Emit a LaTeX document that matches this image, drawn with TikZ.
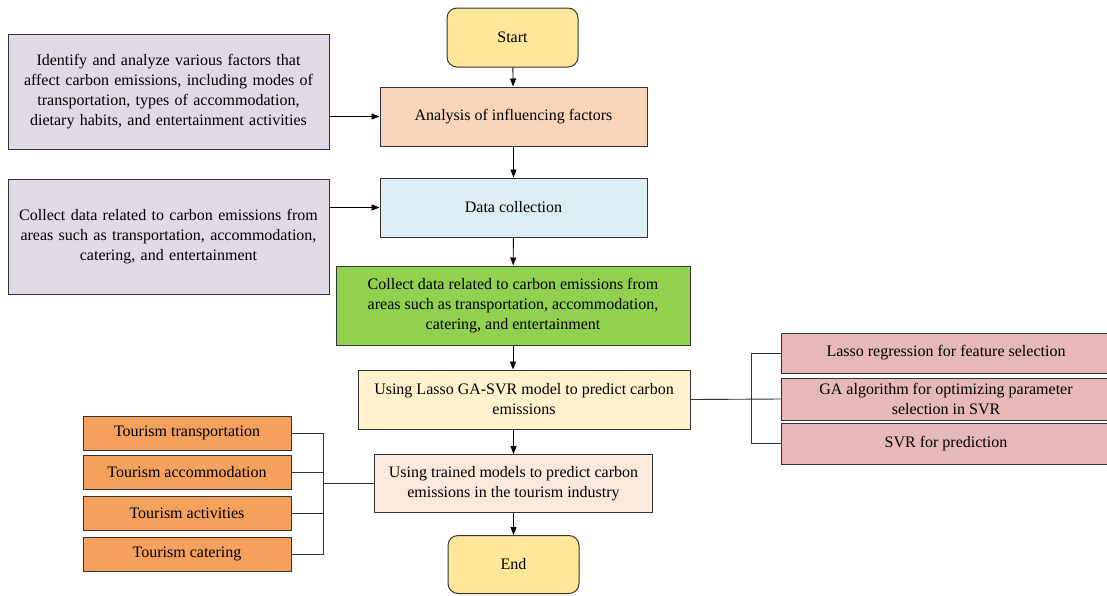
\documentclass[tikz,border=0pt]{standalone}
\usepackage{fontspec}
\setmainfont{Liberation Serif}
\usetikzlibrary{arrows.meta}
\definecolor{startc}{HTML}{FFE699}
\definecolor{anac}{HTML}{F8D5B8}
\definecolor{colc}{HTML}{DCEDF3}
\definecolor{facc}{HTML}{E0DAE7}
\definecolor{datc}{HTML}{92D050}
\definecolor{modc}{HTML}{FFF2CC}
\definecolor{predc}{HTML}{FBE9DC}
\definecolor{partc}{HTML}{E6B8B7}
\definecolor{tourc}{HTML}{F4A15D}
\begin{document}
\begin{tikzpicture}[
    x=1pt, y=-1pt,
    box/.style={rectangle, draw=black!80, line width=1pt, align=center, inner sep=2pt, font=\fontsize{16}{20}\selectfont},
    term/.style={box, rounded corners=10pt, fill=startc, minimum width=131pt, minimum height=59pt},
    process/.style={box, minimum width=267pt, minimum height=59pt},
    note/.style={box, fill=facc, minimum width=321pt, minimum height=115pt, text width=316pt},
    part/.style={box, fill=partc, minimum width=330pt},
    tour/.style={box, fill=tourc, minimum width=208pt, minimum height=34pt},
    arrow/.style={-{Triangle[length=8pt,width=6pt]}, line width=0.9pt},
    link/.style={line width=0.9pt, draw=black!80},
]
\useasboundingbox (0,0) rectangle (1107,595);

% Process Flow
\node[term] (start) at (512.5,37.5) {Start};
\node[process, fill=anac] (ana) at (513.5,116.5) {Analysis of influencing factors};
\node[note] (fac) at (168.5,91.5) {Identify and analyze various factors that\\affect carbon emissions, including modes of\\transportation, types of accommodation,\\dietary habits, and entertainment activities};
\node[process, fill=colc] (col) at (513.5,207.5) {Data collection};
\node[note] (src) at (168.5,236.5) {Collect data related to carbon emissions from\\areas such as transportation, accommodation,\\catering, and entertainment};
\node[box, fill=datc, minimum width=354pt, minimum height=79pt] (dat) at (513,305.5) {Collect data related to carbon emissions from\\areas such as transportation, accommodation,\\catering, and entertainment};
\node[box, fill=modc, minimum width=332pt, minimum height=59pt] (mod) at (524,399.5) {Using Lasso GA-SVR model to predict carbon\\emissions};
\node[box, fill=predc, minimum width=278pt, minimum height=58pt] (pred) at (513.5,483.5) {Using trained models to predict carbon\\emissions in the tourism industry};
\node[term, minimum height=58pt] (end) at (513.5,564.5) {End};

% Model parts
\node[part, minimum height=40pt] (lasso) at (946,353) {Lasso regression for feature selection};
\node[part, minimum height=42pt] (ga) at (946,399) {GA algorithm for optimizing parameter\\selection in SVR};
\node[part, minimum height=41pt] (svr) at (946,443.5) {SVR for prediction};

% Tourism sectors
\node[tour] (tra) at (187,433) {Tourism transportation};
\node[tour] (acc) at (187,472) {Tourism accommodation};
\node[tour] (act) at (187,513.5) {Tourism activities};
\node[tour] (cat) at (187,554) {Tourism catering};

\coordinate (rb) at (751,0);
\coordinate (lb) at (323,0);

\draw[arrow] (start) -- (ana);
\draw[arrow] (ana) -- (col);
\draw[arrow] (col) -- (dat);
\draw[arrow] (dat.south) -- (dat.south |- mod.north);
\draw[arrow] (mod.south -| pred) -- (pred);
\draw[arrow] (pred) -- (end);
\draw[arrow] (fac.east |- ana) -- (ana);
\draw[arrow] (src.east |- col) -- (col);

\draw[link] (mod.east) -- (ga.west);
\draw[link] (lasso.west) -- (lasso.west -| rb) -- (svr.west -| rb) -- (svr.west);
\draw[link] (tra.east) -- (tra.east -| lb) -- (cat.east -| lb) -- (cat.east);
\draw[link] (acc.east) -- (acc.east -| lb);
\draw[link] (act.east) -- (act.east -| lb);
\draw[link] (pred.west) -- (pred.west -| lb);

\end{tikzpicture}
\end{document}
